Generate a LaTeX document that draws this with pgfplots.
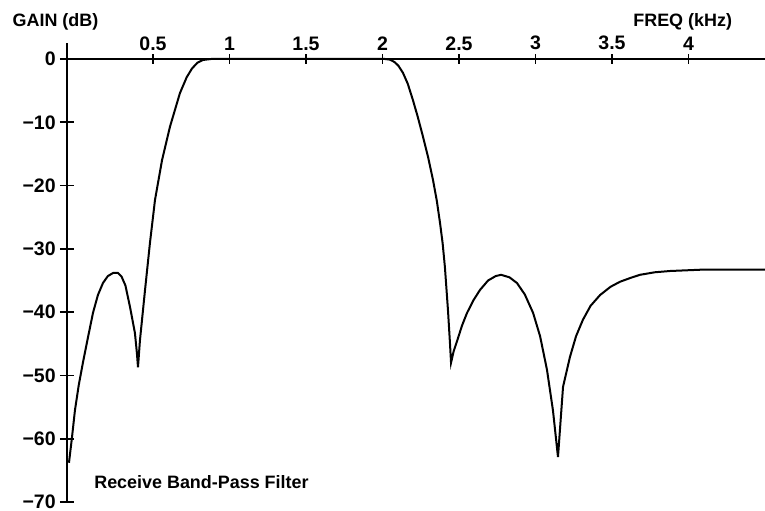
\documentclass[border=0pt]{standalone}
\usepackage{fontspec}
\setmainfont{Liberation Sans}
\usepackage{pgfplots}
\pgfplotsset{compat=1.18}
\begin{document}
\begin{tikzpicture}
\begin{axis}[name=ax, scale only axis, width=349bp, height=229.5bp,
  xmin=-0.062, xmax=4.5, ymin=-70, ymax=2.53, clip=false,
  axis x line=middle, axis y line=left,
  axis line style={-, line width=1.1bp},
  xtick={0.5,1,1.5,2,2.5,3,3.5,4}, xticklabels={0.5,1,1.5,2,2.5,3,3.5,4},
  ytick={-70,-60,-50,-40,-30,-20,-10,0},
  yticklabels={−70,−60,−50,−40,−30,−20,−10,0},
  tick align=center,
  xtick style={line width=0.8bp, black, /pgfplots/major tick length=5bp},
  ytick style={line width=0.8bp, black, /pgfplots/major tick length=7bp},
  xticklabel style={anchor=south, yshift=3bp, font=\bfseries\fontsize{9.8}{11}\selectfont},
  yticklabel style={font=\bfseries\fontsize{9.8}{11}\selectfont},
  /pgf/number format/assume math mode=true,
]
\addplot[black, line width=1bp] coordinates {
(-0.049,-63.8) (-0.029,-59.7) (-0.010,-55.5) (0.015,-51.5) (0.042,-48.0)
(0.075,-44.0) (0.108,-40.1) (0.140,-37.3) (0.173,-35.4) (0.205,-34.3)
(0.240,-33.8) (0.271,-33.8) (0.295,-34.4) (0.320,-35.8) (0.350,-39.2)
(0.382,-43.3) (0.395,-46.5) (0.402,-48.7) (0.415,-44.4) (0.448,-36.5)
(0.480,-29.1) (0.513,-22.3) (0.559,-16.0) (0.611,-10.7) (0.676,-5.4)
(0.720,-2.9) (0.755,-1.5) (0.790,-0.6) (0.827,-0.15) (0.880,0)
(1.46,0) (2.016,0) (2.049,-0.1) (2.080,-0.5) (2.105,-1.1)
(2.134,-2.2) (2.165,-3.9) (2.199,-6.5) (2.230,-9.1) (2.265,-12.3)
(2.298,-15.5) (2.330,-19.1) (2.355,-22.4) (2.376,-25.9) (2.393,-29.1)
(2.408,-32.9) (2.428,-39.7) (2.441,-44.9) (2.448,-48.0)
(2.465,-46.2) (2.487,-44.6) (2.520,-42.1) (2.553,-40.1) (2.595,-38.1)
(2.637,-36.5) (2.690,-35.0) (2.740,-34.3) (2.775,-34.1) (2.830,-34.5) (2.879,-35.4)
(2.930,-37.2) (2.984,-40.1) (3.030,-43.8) (3.075,-49.1) (3.114,-55.5) (3.147,-62.9)
(3.180,-51.8) (3.225,-47.1) (3.265,-43.8) (3.310,-41.2) (3.360,-39.0) (3.422,-37.3)
(3.490,-36.0) (3.552,-35.2) (3.620,-34.6) (3.683,-34.1) (3.780,-33.7) (3.879,-33.5)
(4.075,-33.3) (4.300,-33.3) (4.500,-33.3)
};
\node[anchor=west, inner sep=0, font=\bfseries\fontsize{9}{10}\selectfont] at (axis cs:-0.42,5.9) {GAIN (dB)};
\node[anchor=west, inner sep=0, font=\bfseries\fontsize{9}{10}\selectfont] at (axis cs:3.637,5.9) {FREQ (kHz)};
\node[anchor=west, inner sep=0, font=\bfseries\fontsize{9}{10}\selectfont] at (axis cs:0.114,-66.8) {Receive Band-Pass Filter};
\end{axis}
\pgfresetboundingbox
\path ([xshift=-33.5bp,yshift=-4.5bp]ax.south west) rectangle ([yshift=21.5bp]ax.north east);
\end{tikzpicture}
\end{document}
